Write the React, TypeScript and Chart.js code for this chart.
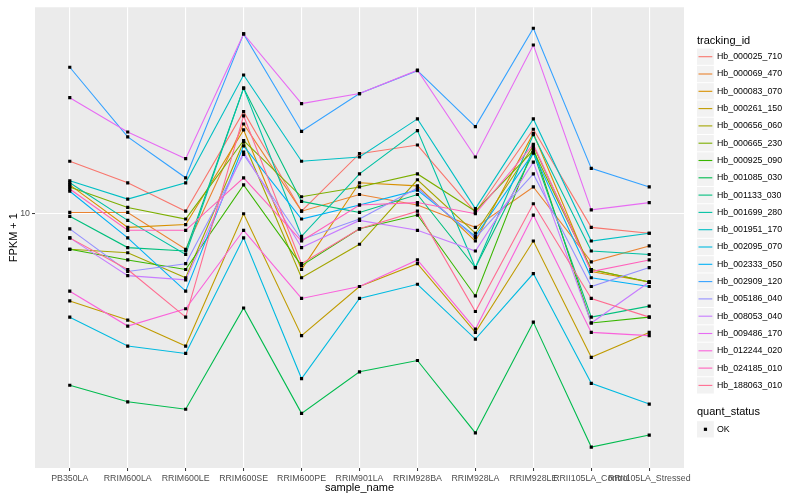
import React, { useEffect, useRef } from 'react';
import { Chart, registerables } from 'chart.js';

Chart.register(...registerables);

const categories = [
  'PB350LA', 'RRIM600LA', 'RRIM600LE', 'RRIM600SE', 'RRIM600PE', 'RRIM901LA',
  'RRIM928BA', 'RRIM928LA', 'RRIM928LE', 'RRII105LA_Control', 'RRII105LA_Stressed',
];

const trackingIds = [
  'Hb_000025_710', 'Hb_000069_470', 'Hb_000083_070', 'Hb_000261_150', 'Hb_000656_060',
  'Hb_000665_230', 'Hb_000925_090', 'Hb_001085_030', 'Hb_001133_030', 'Hb_001699_280',
  'Hb_001951_170', 'Hb_002095_070', 'Hb_002333_050', 'Hb_002909_120', 'Hb_005186_040',
  'Hb_008053_040', 'Hb_009486_170', 'Hb_012244_020', 'Hb_024185_010', 'Hb_188063_010',
];

const colors = [
  '#F8766D', '#EA8331', '#D89000', '#C09B00', '#A3A500', '#7CAE00', '#39B600', '#00BB4E',
  '#00BF7D', '#00C1A3', '#00BFC4', '#00BAE0', '#00B0F6', '#35A2FF', '#9590FF', '#C77CFF',
  '#E76BF3', '#FA62DB', '#FF62BC', '#FF6C91',
];

const hb_000025_710 = [15.0, 12.7, 10.2, 22.0, 10.2, 15.9, 17.0, 10.1, 19.2, 9.0, 8.6];
const hb_000069_470 = [10.1, 10.1, 7.6, 20.0, 10.2, 11.6, 10.7, 9.0, 12.3, 6.9, 7.8];
const hb_000083_070 = [12.5, 9.0, 9.2, 19.1, 6.5, 12.7, 12.4, 8.1, 18.6, 6.4, 5.9];
const hb_000261_150 = [5.1, 4.4, 3.6, 10.0, 3.9, 5.7, 6.8, 4.0, 8.1, 3.3, 4.0];
const hb_000656_060 = [7.6, 7.4, 6.1, 17.4, 6.1, 7.9, 13.0, 8.6, 16.9, 6.5, 5.9];
const hb_000665_230 = [12.3, 10.5, 9.6, 17.6, 11.4, 12.3, 13.6, 10.2, 16.3, 6.5, 5.9];
const hb_000925_090 = [7.6, 7.0, 6.5, 12.5, 6.7, 8.9, 9.9, 5.3, 16.6, 4.3, 4.5];
const hb_001085_030 = [2.66, 2.34, 2.21, 4.83, 2.14, 2.95, 3.22, 1.84, 4.33, 1.65, 1.81];
const hb_001133_030 = [9.8, 7.7, 7.5, 26.4, 11.0, 10.1, 11.6, 6.6, 16.0, 4.5, 4.9];
const hb_001699_280 = [12.7, 9.5, 7.3, 26.4, 8.4, 13.6, 19.0, 6.6, 18.4, 7.5, 7.3];
const hb_001951_170 = [12.9, 11.2, 12.7, 29.2, 15.0, 15.5, 20.8, 10.4, 20.8, 8.1, 8.6];
const hb_002095_070 = [4.5, 3.6, 3.4, 8.3, 2.8, 5.2, 5.8, 3.8, 6.3, 2.7, 2.3];
const hb_002333_050 = [11.9, 8.3, 5.5, 16.9, 9.6, 10.7, 12.0, 8.4, 16.0, 6.1, 5.7];
const hb_002909_120 = [31.0, 18.1, 13.2, 40.1, 18.9, 25.3, 30.2, 19.6, 41.9, 14.2, 12.3];
const hb_005186_040 = [8.9, 6.4, 6.8, 15.8, 8.2, 9.6, 12.2, 8.3, 13.6, 5.7, 6.6];
const hb_008053_040 = [8.3, 6.2, 6.0, 16.1, 7.7, 9.5, 8.8, 7.5, 14.9, 4.3, 5.9];
const hb_009486_170 = [24.5, 18.8, 15.3, 40.1, 23.4, 25.3, 30.3, 15.5, 36.8, 10.3, 10.9];
const hb_012244_020 = [5.5, 4.2, 4.8, 8.8, 5.2, 5.7, 7.0, 4.1, 9.9, 4.0, 3.9];
const hb_024185_010 = [12.1, 8.8, 8.8, 13.2, 8.1, 10.7, 10.9, 10.0, 17.1, 6.4, 7.0];
const hb_188063_010 = [8.3, 6.5, 4.5, 21.3, 6.8, 8.9, 10.2, 4.7, 10.8, 5.2, 4.5];

const seriesValues = [
  hb_000025_710, hb_000069_470, hb_000083_070, hb_000261_150, hb_000656_060,
  hb_000665_230, hb_000925_090, hb_001085_030, hb_001133_030, hb_001699_280,
  hb_001951_170, hb_002095_070, hb_002333_050, hb_002909_120, hb_005186_040,
  hb_008053_040, hb_009486_170, hb_012244_020, hb_024185_010, hb_188063_010,
];

const yTickValues = [10];
const yTickLabels = ['10'];
const quantStatus = ['OK'];

const FONT = '"Liberation Sans", Arial, Helvetica, sans-serif';

const decorPlugin = {
  id: 'ggDecor',
  beforeDraw(chart: any) {
    const { ctx, chartArea: a } = chart;
    ctx.save();
    ctx.fillStyle = '#EBEBEB';
    ctx.fillRect(a.left, a.top, a.right - a.left, a.bottom - a.top);
    ctx.restore();
  },
  afterDraw(chart: any) {
    const { ctx, chartArea: a } = chart;
    ctx.save();
    // axis titles
    ctx.fillStyle = '#000000';
    ctx.font = `11px ${FONT}`;
    ctx.textAlign = 'center';
    ctx.textBaseline = 'middle';
    ctx.fillText('sample_name', (a.left + a.right) / 2, 488);
    ctx.save();
    ctx.translate(14, (a.top + a.bottom) / 2);
    ctx.rotate(-Math.PI / 2);
    ctx.fillText('FPKM + 1', 0, 0);
    ctx.restore();

    // legend: tracking_id
    const lx = 697;
    const key = 17.3;
    ctx.textAlign = 'left';
    ctx.font = `11px ${FONT}`;
    ctx.fillText('tracking_id', lx, 40.5);
    ctx.font = `8.8px ${FONT}`;
    const ds = chart.data.datasets.filter((d: any) => d.isSeries);
    ds.forEach((d: any, i: number) => {
      const cy = 56.7 + i * key;
      ctx.fillStyle = '#F2F2F2';
      ctx.fillRect(lx, cy - key / 2 + 0.5, key - 0.5, key - 1);
      ctx.strokeStyle = d.borderColor;
      ctx.lineWidth = 1.1;
      ctx.beginPath();
      ctx.moveTo(lx + 1.5, cy);
      ctx.lineTo(lx + key - 2, cy);
      ctx.stroke();
      ctx.fillStyle = '#000000';
      ctx.fillText(d.label, 717, cy);
    });

    // legend: quant_status
    ctx.font = `11px ${FONT}`;
    ctx.fillText('quant_status', lx, 412.3);
    ctx.font = `8.8px ${FONT}`;
    quantStatus.forEach((q, i) => {
      const cy = 429.3 + i * key;
      ctx.fillStyle = '#F2F2F2';
      ctx.fillRect(lx, cy - key / 2 + 0.5, key - 0.5, key - 1);
      ctx.fillStyle = '#000000';
      ctx.fillRect(lx + key / 2 - 1.8, cy - 1.6, 3.2, 3.2);
      ctx.fillText(q, 717, cy);
    });
    ctx.restore();
  },
};

export default function App() {
  const canvasRef = useRef<HTMLCanvasElement | null>(null);

  useEffect(() => {
    if (!canvasRef.current) return;
    const all = seriesValues.flat();
    const lmin = Math.log10(Math.min(...all));
    const lmax = Math.log10(Math.max(...all));
    const pad = (lmax - lmin) * 0.05;
    const yMin = Math.pow(10, lmin - pad);
    const yMax = Math.pow(10, lmax + pad);
    const n = seriesValues.length;

    const lineSets = seriesValues.map((vals, i) => ({
      label: trackingIds[i],
      isSeries: true,
      data: vals.map((v, j) => ({ x: j, y: v })),
      borderColor: colors[i],
      backgroundColor: colors[i],
      borderWidth: 1.1,
      pointRadius: 0,
      tension: 0,
      fill: false,
      order: n - i,
    }));

    const pointSet = {
      label: 'points',
      isSeries: false,
      data: seriesValues.flatMap((vals) => vals.map((v, j) => ({ x: j, y: v }))),
      showLine: false,
      pointStyle: 'rect',
      pointRadius: 2.25,
      pointBorderWidth: 0,
      pointBackgroundColor: '#000000',
      borderColor: '#000000',
      order: 0,
    };

    const chart = new Chart(canvasRef.current, {
      type: 'line',
      data: { datasets: [...lineSets, pointSet] as any },
      plugins: [decorPlugin],
      options: {
        animation: false,
        responsive: true,
        maintainAspectRatio: false,
        events: [],
        layout: { padding: { top: 5, right: 116, left: 0, bottom: 0 } },
        plugins: { legend: { display: false }, tooltip: { enabled: false }, title: { display: false } },
        scales: {
          x: {
            type: 'linear',
            min: -0.6,
            max: 10.6,
            bounds: 'data',
            afterBuildTicks: (s: any) => {
              s.ticks = categories.map((_, i) => ({ value: i }));
            },
            afterFit: (s: any) => {
              s.height = 32;
            },
            ticks: {
              autoSkip: false,
              maxRotation: 0,
              minRotation: 0,
              padding: 2,
              color: '#4D4D4D',
              font: { family: FONT, size: 8.8 },
              callback: (v: any) => categories[Math.round(Number(v))] ?? '',
            },
            grid: {
              color: '#FFFFFF',
              lineWidth: 1.1,
              tickLength: 3,
              tickColor: '#333333',
              tickWidth: 1,
            },
            border: { display: false },
          },
          y: {
            type: 'logarithmic',
            min: yMin,
            max: yMax,
            bounds: 'data',
            afterBuildTicks: (s: any) => {
              s.ticks = yTickValues.map((v) => ({ value: v }));
            },
            afterFit: (s: any) => {
              s.width = 35;
            },
            ticks: {
              padding: 2,
              color: '#4D4D4D',
              font: { family: FONT, size: 8.8 },
              callback: (v: any) => {
                const k = yTickValues.indexOf(Number(v));
                return k >= 0 ? yTickLabels[k] : '';
              },
            },
            grid: {
              color: '#FFFFFF',
              lineWidth: 1.1,
              tickLength: 3,
              tickColor: '#333333',
              tickWidth: 1,
            },
            border: { display: false },
          },
        },
      } as any,
    });

    return () => {
      chart.destroy();
    };
  }, []);

  return (
    <div style={{ position: 'absolute', left: 0, top: 0, width: 800, height: 500, background: '#FFFFFF' }}>
      <canvas ref={canvasRef} />
    </div>
  );
}
